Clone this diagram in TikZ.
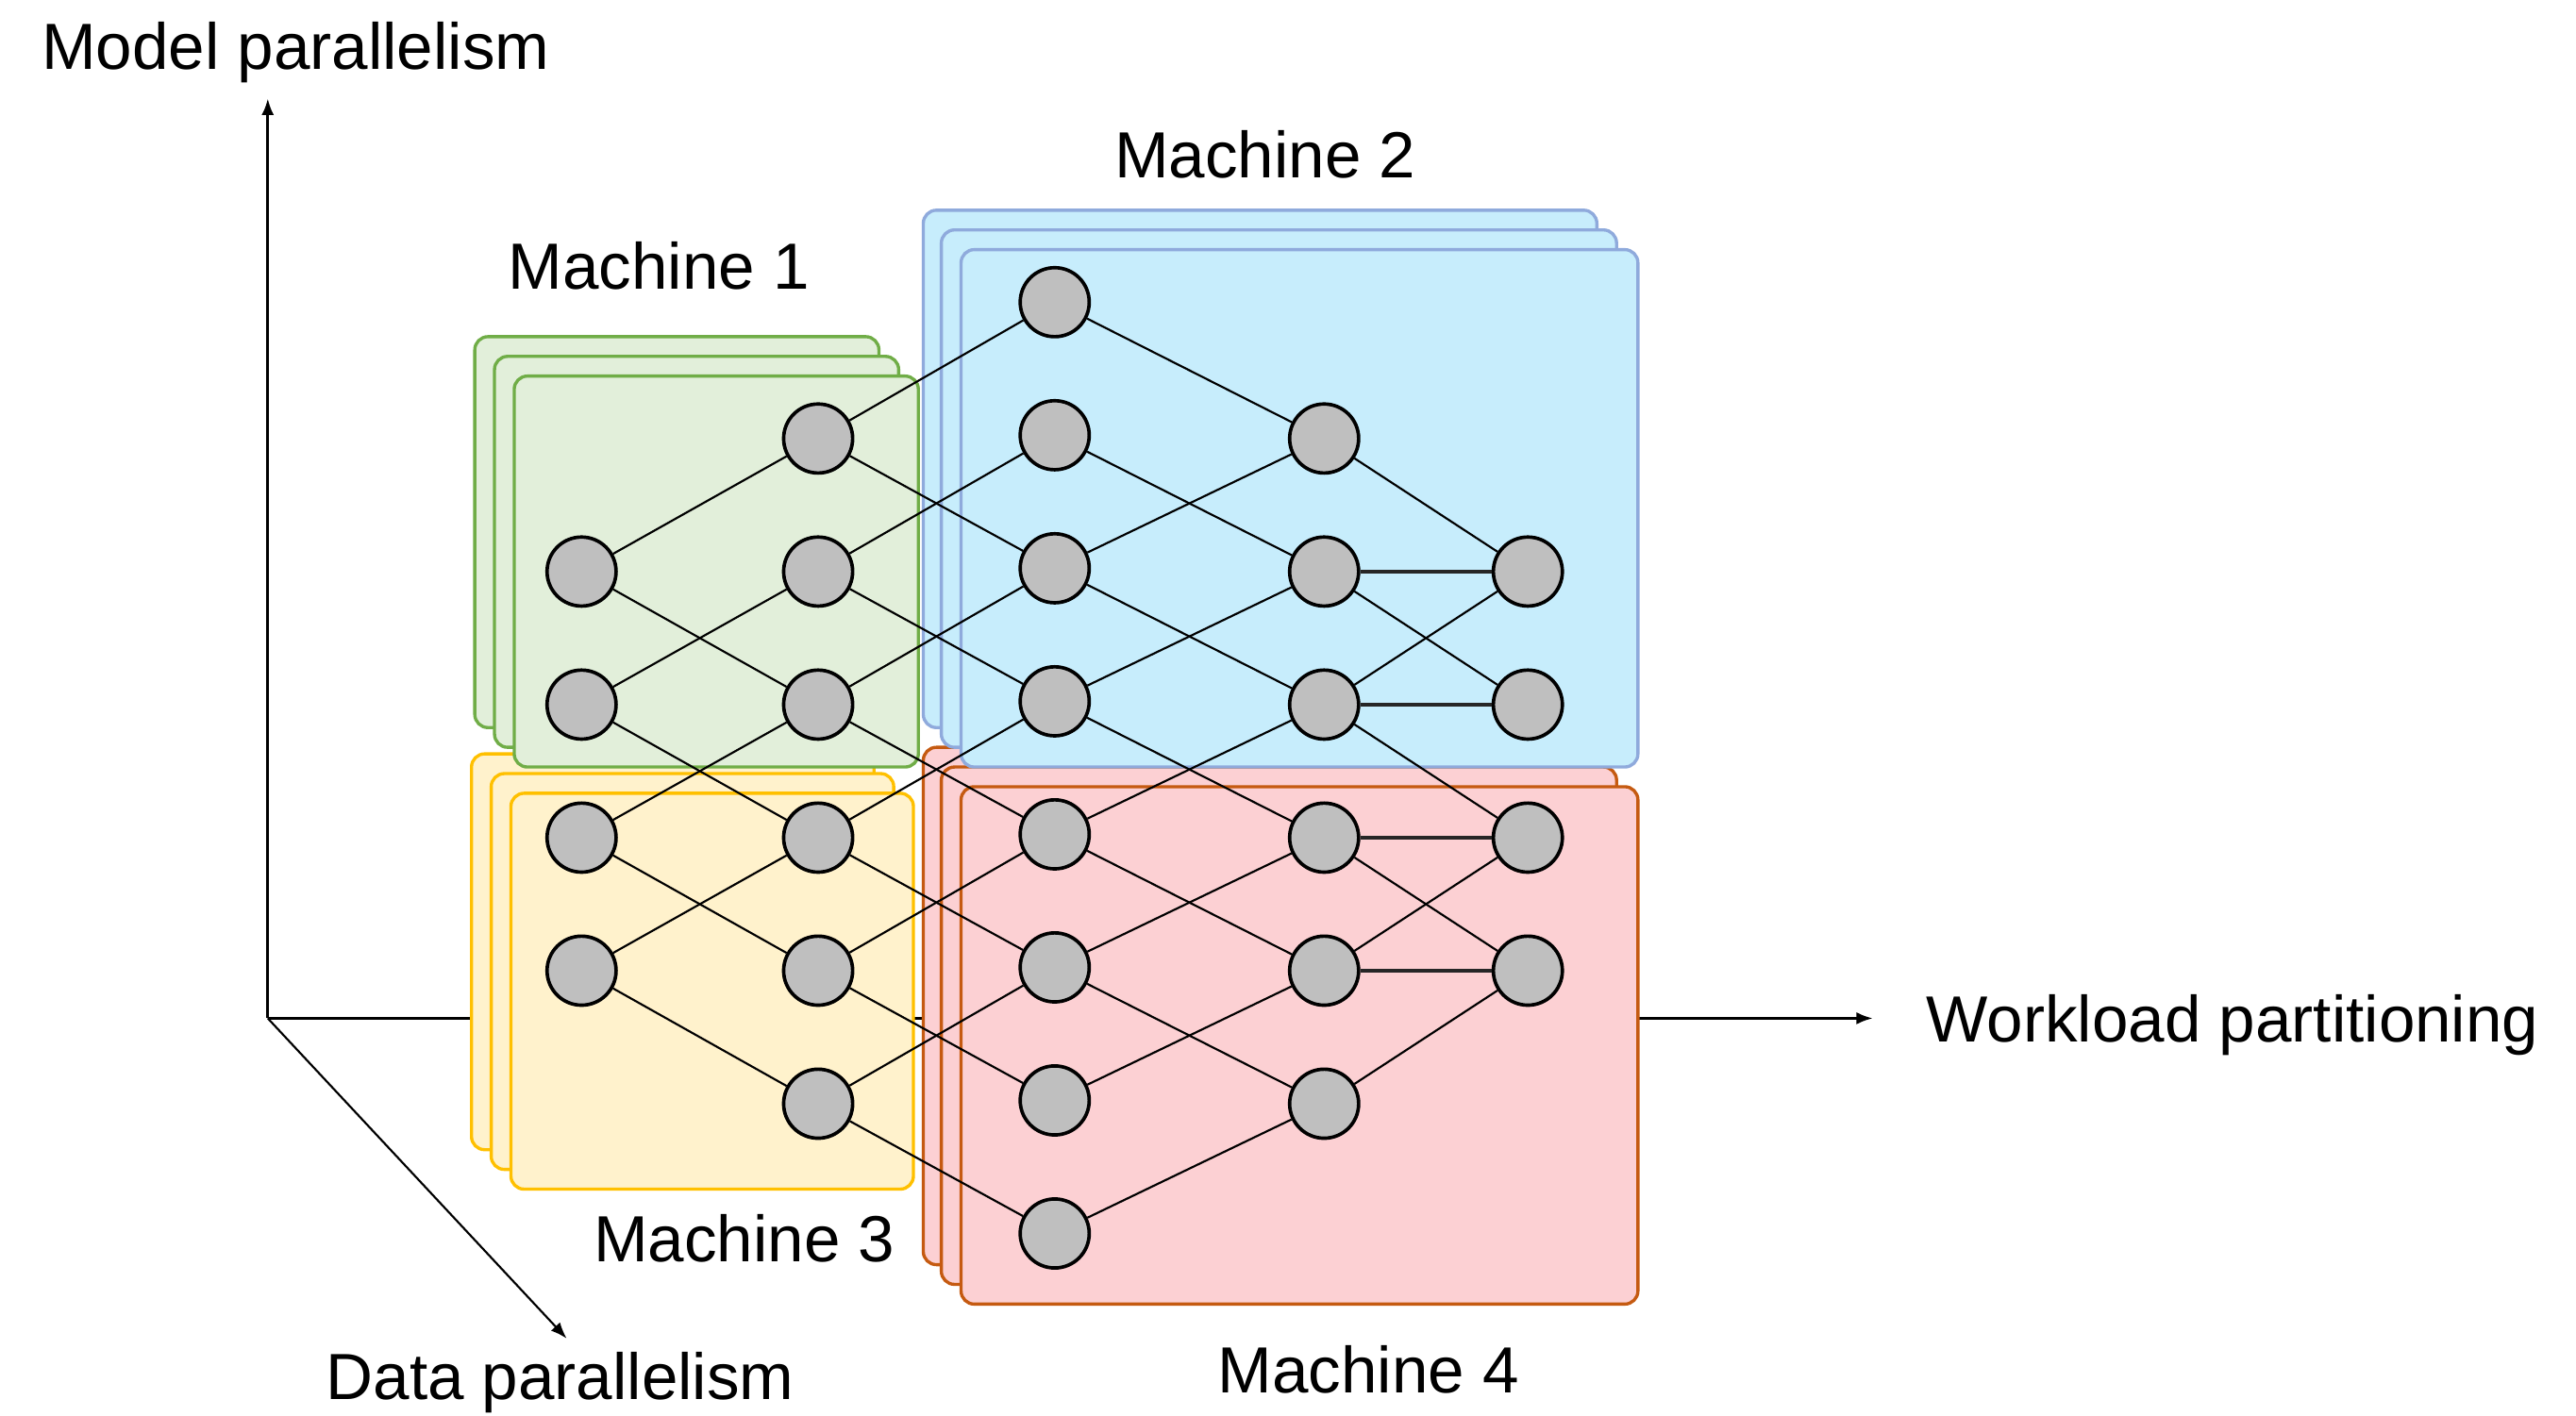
\documentclass[tikz,border=0pt]{standalone}
\usepackage{fontspec}
\setmainfont{Liberation Sans}
\usetikzlibrary{arrows.meta}
\definecolor{gfill}{HTML}{E2EFDA}
\definecolor{gline}{HTML}{70AD47}
\definecolor{yfill}{HTML}{FFF2CC}
\definecolor{yline}{HTML}{FFC000}
\definecolor{bfill}{HTML}{C7EDFC}
\definecolor{bline}{HTML}{8FAADC}
\definecolor{pfill}{HTML}{FCD0D3}
\definecolor{pline}{HTML}{C55A11}
\definecolor{nfill}{HTML}{BFBFBF}
\tikzset{
  mbox/.style={rounded corners=0.08cm, line width=0.55pt},
  gbox/.style={mbox, fill=gfill, draw=gline},
  ybox/.style={mbox, fill=yfill, draw=yline},
  bbox/.style={mbox, fill=bfill, draw=bline},
  pbox/.style={mbox, fill=pfill, draw=pline},
  neuron/.style={circle, minimum size=0.42cm, inner sep=0pt, fill=nfill, draw=black, line width=0.6pt},
  edge/.style={draw=black, line width=0.35pt},
  hedge/.style={draw=black!85, line width=0.6pt},
  axis/.style={draw=black, line width=0.45pt, -{Latex[length=0.1cm,width=0.075cm]}},
  lbl/.style={font=\fontsize{11.3}{13.5}\selectfont, inner sep=0pt},
}
\begin{document}
\begin{tikzpicture}[x=0.01cm,y=-0.01cm]
\useasboundingbox (0,0) rectangle (1568,862);

% axes
\coordinate (o) at (163,620);
\coordinate (ytip) at (163,60);
\coordinate (xtip) at (1140,620);
\coordinate (ztip) at (345,815);
\draw[axis] (o) -- (ytip);
\draw[axis] (o) -- (xtip);
\draw[axis, line width=0.35pt] (o) -- (ztip);

% machine 3 (yellow)
\draw[ybox] (287,459) rectangle (532,700);
\draw[ybox] (299,471) rectangle (544,712);
\draw[ybox] (311,483) rectangle (556,724);
% machine 4 (pink)
\draw[pbox] (562,455) rectangle (972,770);
\draw[pbox] (573,467) rectangle (984,782);
\draw[pbox] (585,479) rectangle (997,794);
% machine 1 (green)
\draw[gbox] (289,205) rectangle (535,443);
\draw[gbox] (301,217) rectangle (547,455);
\draw[gbox] (313,229) rectangle (559,467);
% machine 2 (blue)
\draw[bbox] (562,128) rectangle (972,443);
\draw[bbox] (573,140) rectangle (984,455);
\draw[bbox] (585,152) rectangle (997,467);

% labels
\node[lbl] (lmodel) at (180,32) {Model parallelism};
\node[lbl] (ldata) at (341,842) {Data parallelism};
\node[lbl, anchor=west] (lwork) at (1172,624) {Workload partitioning};
\node[lbl] (m1) at (401,162) {Machine 1};
\node[lbl] (m2) at (770,94) {Machine 2};
\node[lbl] (m3) at (453,754) {Machine 3};
\node[lbl] (m4) at (833,834) {Machine 4};

% neurons
\foreach \k in {2,...,5} \node[neuron] (a\k) at (354,186+81*\k) {};
\foreach \k in {1,...,6} \node[neuron] (b\k) at (498,186+81*\k) {};
\foreach \k in {0,...,7} \node[neuron] (c\k) at (642,184+81*\k) {};
\foreach \k in {1,...,6} \node[neuron] (d\k) at (806,186+81*\k) {};
\foreach \k in {2,...,5} \node[neuron] (e\k) at (930,186+81*\k) {};

% A -> B
\draw[edge] (a2) -- (b1); \draw[edge] (a2) -- (b3);
\draw[edge] (a3) -- (b2); \draw[edge] (a3) -- (b4);
\draw[edge] (a4) -- (b3); \draw[edge] (a4) -- (b5);
\draw[edge] (a5) -- (b4); \draw[edge] (a5) -- (b6);
% B -> C
\draw[edge] (b1) -- (c0); \draw[edge] (b1) -- (c2);
\draw[edge] (b2) -- (c1); \draw[edge] (b2) -- (c3);
\draw[edge] (b3) -- (c2); \draw[edge] (b3) -- (c4);
\draw[edge] (b4) -- (c3); \draw[edge] (b4) -- (c5);
\draw[edge] (b5) -- (c4); \draw[edge] (b5) -- (c6);
\draw[edge] (b6) -- (c5); \draw[edge] (b6) -- (c7);
% C -> D
\draw[edge] (c0) -- (d1);
\draw[edge] (c1) -- (d2);
\draw[edge] (c2) -- (d1); \draw[edge] (c2) -- (d3);
\draw[edge] (c3) -- (d2); \draw[edge] (c3) -- (d4);
\draw[edge] (c4) -- (d3); \draw[edge] (c4) -- (d5);
\draw[edge] (c5) -- (d4); \draw[edge] (c5) -- (d6);
\draw[edge] (c6) -- (d5);
\draw[edge] (c7) -- (d6);
% D -> E
\draw[edge] (d1) -- (e2);
\draw[hedge] (d2) -- (e2); \draw[edge] (d2) -- (e3);
\draw[edge] (d3) -- (e2); \draw[hedge] (d3) -- (e3); \draw[edge] (d3) -- (e4);
\draw[hedge] (d4) -- (e4); \draw[edge] (d4) -- (e5);
\draw[edge] (d5) -- (e4); \draw[hedge] (d5) -- (e5);
\draw[edge] (d6) -- (e5);
\end{tikzpicture}
\end{document}
